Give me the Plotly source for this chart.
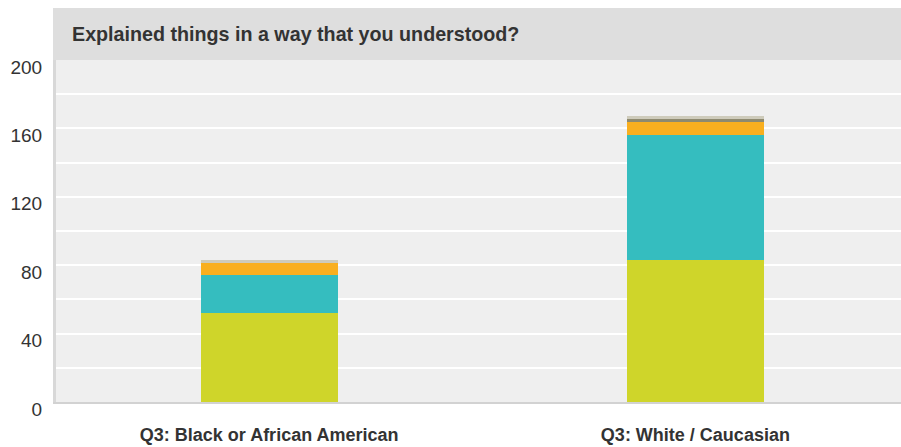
import plotly.graph_objects as go

categories = ["Q3: Black or African American", "Q3: White / Caucasian"]
always = [52, 83]
usually = [22, 73]
sometimes = [7, 8]
never = [0, 2]
no_answer = [2, 1]

series = [
    ("Always", always, "#cfd52a"),
    ("Usually", usually, "#35bdbf"),
    ("Sometimes", sometimes, "#f9af1f"),
    ("Never", never, "#8e8a70"),
    ("No answer", no_answer, "#cecbbb"),
]

y_ticks = list(range(0, 201, 20))
y_ticktext = [str(v) if v % 40 == 0 else "" for v in y_ticks]

fig = go.Figure()
for name, vals, col in series:
    fig.add_trace(go.Bar(
        x=categories, y=vals, name=name, marker=dict(color=col, line=dict(width=0)),
        width=0.3216,
    ))

W, H = 901, 447
L, R, T, B = 56, 0, 60, 45
pw = W - L - R
ph = H - T - B

fig.update_layout(
    width=W, height=H,
    margin=dict(l=L, r=R, t=T, b=B, pad=0),
    barmode="stack",
    showlegend=False,
    plot_bgcolor="#efefef",
    paper_bgcolor="#ffffff",
    font=dict(family="Liberation Sans, Arial, sans-serif", color="#333333", size=16),
    xaxis=dict(
        range=[-0.5, 1.4824],
        showgrid=False,
        showline=True, linecolor="#d2d2d2", linewidth=2,
        ticks="",
        tickfont=dict(size=18, color="#333333", weight="bold"),
        ticklabelstandoff=15,
        fixedrange=True,
    ),
    yaxis=dict(
        range=[0, 200],
        tickvals=y_ticks, ticktext=y_ticktext,
        showgrid=True, gridcolor="#ffffff", gridwidth=2,
        zeroline=False,
        showline=True, linecolor="#d8d8d8", linewidth=3,
        ticks="",
        tickfont=dict(size=19, color="#333333"),
        ticklabelshift=7,
        ticklabelstandoff=7,
        fixedrange=True,
    ),
    shapes=[
        dict(type="rect", xref="paper", yref="paper",
             x0=-3 / pw, x1=1.0, y0=1.0, y1=1.0 + 52 / ph,
             fillcolor="#dedede", line=dict(width=0), layer="above"),
    ],
    annotations=[
        dict(text="<b>Explained things in a way that you understood?</b>",
             xref="paper", yref="paper",
             x=(70 - L) / pw, y=1.0 + 26 / ph,
             xanchor="left", yanchor="middle", showarrow=False,
             font=dict(size=19.7, color="#333333")),
    ],
)

fig.write_html(
    "out.html",
    config={"displayModeBar": False},
    post_script="document.body.style.margin='0';document.body.style.overflow='hidden';",
)
